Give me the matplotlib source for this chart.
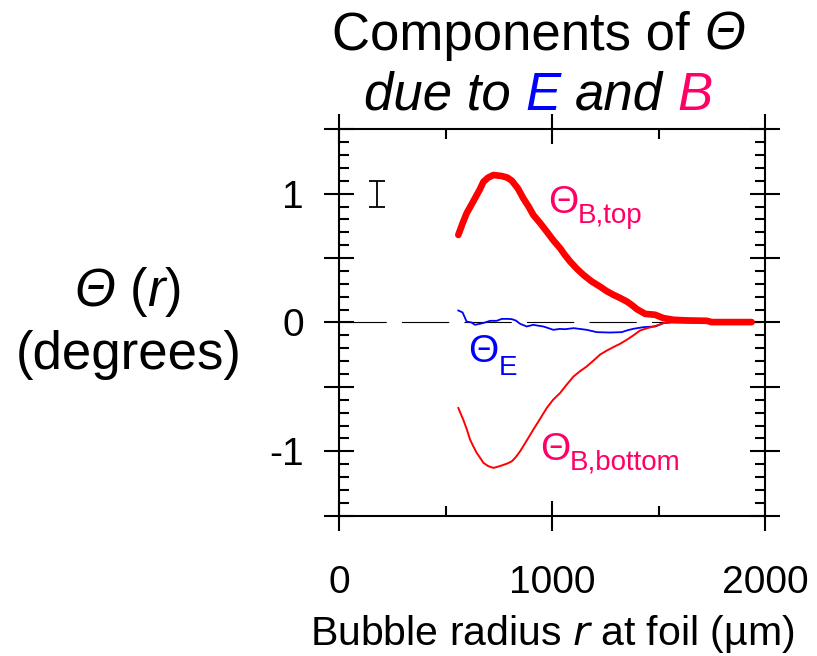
import numpy as np
import matplotlib
matplotlib.use("Agg")
import matplotlib.pyplot as plt
from matplotlib.ticker import FixedLocator, MultipleLocator

plt.rcParams['font.family'] = ['Liberation Sans', 'DejaVu Sans']
plt.rcParams['lines.scale_dashes'] = False

# Theta_B,top (thick red)
r_top = [560, 580, 599, 620, 638, 660, 678, 700, 725, 764,
         790, 811, 840, 865, 890, 912, 945, 975, 1005, 1038,
         1060, 1085, 1115, 1147, 1185, 1225, 1255, 1288, 1320, 1351,
         1375, 1398, 1437, 1484, 1523, 1570, 1633, 1726, 1750, 1937]
theta_top = [0.68, 0.77, 0.848, 0.91, 0.964, 1.03, 1.093, 1.125, 1.145, 1.137,
             1.125, 1.101, 1.04, 0.964, 0.90, 0.835, 0.77, 0.706, 0.64, 0.576,
             0.525, 0.473, 0.42, 0.370, 0.32, 0.279, 0.245, 0.215, 0.19, 0.163,
             0.135, 0.104, 0.067, 0.060, 0.034, 0.021, 0.016, 0.013, 0.003, 0.003]

# Theta_B,bottom (thin red)
r_bot = [560, 583, 600, 615, 630, 646, 662, 678, 700, 725,
         745, 764, 790, 811, 830, 850, 880, 912, 945, 975,
         1005, 1038, 1070, 1101, 1130, 1163, 1195, 1225, 1255, 1288,
         1320, 1351, 1382, 1413, 1445, 1476, 1500, 1523, 1550, 1600,
         1700, 1800, 1937]
theta_bot = [-0.664, -0.754, -0.83, -0.909, -0.96, -1.012, -1.05, -1.090, -1.115, -1.129,
             -1.12, -1.110, -1.095, -1.078, -1.045, -1.0, -0.92, -0.832, -0.745, -0.664,
             -0.60, -0.547, -0.48, -0.419, -0.38, -0.341, -0.295, -0.250, -0.22, -0.191,
             -0.165, -0.134, -0.10, -0.062, -0.045, -0.031, -0.02, -0.005, 0.0, 0.0,
             0.0, 0.0, 0.0]

# Theta_E (blue)
r_e = [560, 580, 599, 622, 638, 662, 685, 709, 740, 764,
       790, 811, 830, 850, 881, 912, 935, 959, 985, 1006,
       1035, 1061, 1101, 1130, 1163, 1210, 1272, 1327, 1355, 1382,
       1429, 1484, 1523, 1554]
theta_e = [0.093, 0.078, 0.007, 0.0, -0.018, -0.010, 0.0, 0.013, 0.013, 0.028,
           0.028, 0.026, 0.015, -0.010, -0.031, -0.018, -0.025, -0.031, -0.045, -0.057,
           -0.05, -0.052, -0.044, -0.05, -0.057, -0.075, -0.078, -0.075, -0.06, -0.049,
           -0.036, -0.031, -0.005, 0.0]

# typical error bar
err_r = [180]
err_theta = [1.0]
err_size = [0.1]

x_ticks = [0, 1000, 2000]
x_tick_labels = ['0', '1000', '2000']
y_ticks = [-1.5, -1, -0.5, 0, 0.5, 1, 1.5]
y_tick_labels = ['', '-1', '', '0', '', '1', '']

RED = '#FF0000'
PINK = '#FF0066'
BLUE = '#0000FF'


def draw_runs(fig, runs, x_center, y_base, size):
    """runs: list of (text, color, style, gap_after_in_em)"""
    renderer = fig.canvas.get_renderer()
    texts, widths = [], []
    for s, color, style, gap in runs:
        t = fig.text(0, y_base, s, color=color, style=style,
                     fontsize=size, va='baseline', ha='left')
        w = t.get_window_extent(renderer).width + gap * size * fig.dpi / 72
        texts.append(t)
        widths.append(w)
    total = sum(widths)
    x = x_center * fig.bbox.width - total / 2
    for t, w in zip(texts, widths):
        t.set_x(x / fig.bbox.width)
        x += w


fig = plt.figure(figsize=(8.17, 6.56), dpi=100)
ax = fig.add_axes([0.415, 0.2139, 0.5214, 0.589])

ax.plot([0, 2000], [0, 0], color='black', lw=0.8, linestyle=(0, (34, 11)))
ax.plot(r_e, theta_e, color=BLUE, lw=1.3)
ax.plot(r_bot, theta_bot, color=RED, lw=1.4)
ax.plot(r_top, theta_top, color=RED, lw=4.8, solid_capstyle='round')
ax.errorbar(err_r, err_theta, yerr=err_size, fmt='none', ecolor='black',
            elinewidth=1.3, capsize=6, capthick=1.3)

# curve labels
ax.text(981, 0.85, 'Θ', color=PINK, fontsize=28, va='baseline')
ax.text(1122, 0.773, 'B,top', color=PINK, fontsize=20, va='baseline')
ax.text(606, -0.305, 'Θ', color=BLUE, fontsize=28, va='baseline')
ax.text(751, -0.405, 'E', color=BLUE, fontsize=20, va='baseline')
ax.text(944, -1.064, 'Θ', color=PINK, fontsize=28, va='baseline')
ax.text(1085, -1.142, 'B,bottom', color=PINK, fontsize=20, va='baseline')

ax.set_xlim(0, 2000)
ax.set_ylim(-1.5, 1.5)
ax.xaxis.set_major_locator(FixedLocator(x_ticks))
ax.set_xticklabels(x_tick_labels)
ax.xaxis.set_minor_locator(FixedLocator([500, 1500]))
ax.yaxis.set_major_locator(FixedLocator(y_ticks))
ax.set_yticklabels(y_tick_labels)
ax.yaxis.set_minor_locator(MultipleLocator(0.1))

for s in ax.spines.values():
    s.set_linewidth(1.5)
ax.tick_params(which='major', direction='inout', length=21, width=1.5,
               top=True, right=True, labelsize=28)
ax.tick_params(which='minor', direction='in', length=7.5, width=1.5,
               top=True, right=True)
ax.tick_params(axis='x', which='major', pad=25)
ax.tick_params(axis='y', which='major', pad=15)

ax.set_xlabel('Bubble radius $\\it{r}$ at foil (µm)', fontsize=29.5, labelpad=9)

# y label as two lines of text
draw_runs(fig, [('Θ', 'black', 'italic', 0.278), ('(', 'black', 'normal', 0),
                ('r', 'black', 'italic', 0), (')', 'black', 'normal', 0)],
          0.157, 1 - 306 / 656, 38)
draw_runs(fig, [('(degrees)', 'black', 'normal', 0)], 0.157, 1 - 369 / 656, 38)

# title
draw_runs(fig, [('Components of', 'black', 'normal', 0.278),
                ('Θ', 'black', 'italic', 0)], 0.659, 1 - 50 / 656, 38)
draw_runs(fig, [('due to', 'black', 'italic', 0.278), ('E', BLUE, 'italic', 0.278),
                ('and', 'black', 'italic', 0.278), ('B', PINK, 'italic', 0)],
          0.659, 1 - 110 / 656, 38)

fig.savefig('out.png', dpi=100)
